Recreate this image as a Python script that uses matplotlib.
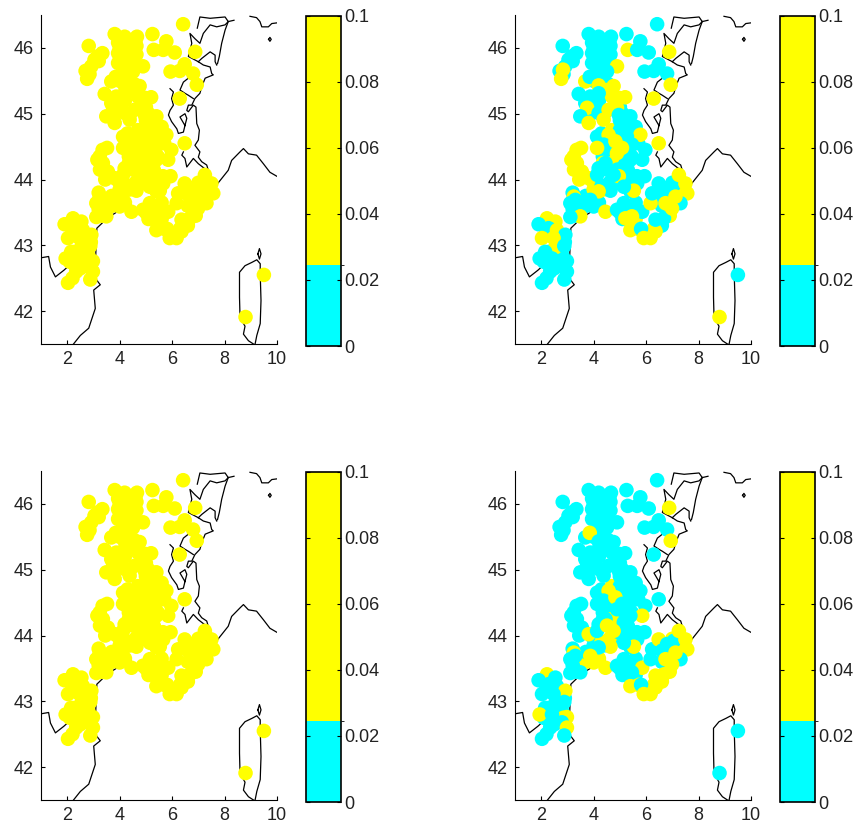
import matplotlib
matplotlib.use("Agg")
import matplotlib.pyplot as plt
from matplotlib.colors import BoundaryNorm, ListedColormap

plt.rcParams["font.family"] = ["Liberation Sans", "DejaVu Sans"]

lons = [6.42, 5.25, 3.81, 4.19, 4.66, 5.78, 5.30, 5.66, 6.10, 6.88, 2.82, 3.34, 3.04, 2.92, 2.83, 2.76,
        3.94, 3.94, 4.25, 4.64, 4.64, 3.94, 4.13, 4.89, 4.51, 3.68, 3.85, 5.94, 6.48, 6.29, 6.80, 6.94,
        6.29, 4.19, 4.76, 4.45, 4.70, 4.96, 3.43, 3.87, 4.19, 3.68, 3.75, 3.49, 3.81, 4.19, 4.38, 4.57,
        4.89, 4.96, 5.40, 5.15, 5.78, 5.27, 5.46, 4.13, 4.57, 4.38, 4.13, 4.83, 5.08, 5.97, 5.85, 6.48,
        3.52, 3.24, 3.36, 3.55, 3.81, 4.13, 4.89, 4.45, 4.19, 5.15, 5.40, 4.96, 4.51, 4.76, 5.94, 5.66,
        5.40, 5.53, 5.15, 4.64, 4.19, 3.87, 3.24, 3.30, 3.11, 3.49, 3.11, 4.00, 4.45, 4.89, 5.15, 5.53,
        5.85, 5.46, 5.21, 5.40, 5.81, 5.91, 6.17, 6.36, 6.36, 6.68, 6.17, 6.23, 6.48, 6.80, 7.06, 6.61,
        7.25, 7.50, 7.57, 7.31, 6.99, 6.74, 7.12, 2.22, 2.54, 1.90, 2.28, 2.60, 2.92, 2.03, 2.47, 2.54,
        2.88, 2.15, 1.94, 2.41, 2.98, 2.79, 2.98, 2.34, 2.03, 2.88, 9.50, 8.80]
lats = [46.36, 46.21, 46.21, 46.17, 46.17, 46.10, 45.97, 45.97, 45.93, 45.94, 46.03, 45.92, 45.82, 45.72, 45.67, 45.53,
        46.08, 45.92, 45.97, 46.03, 45.90, 45.77, 45.64, 45.72, 45.64, 45.49, 45.56, 45.64, 45.75, 45.65, 45.61, 45.44,
        45.23, 45.43, 45.42, 45.36, 45.26, 45.24, 45.30, 45.26, 45.31, 45.16, 45.09, 44.96, 44.86, 45.01, 44.91, 45.06,
        45.09, 44.98, 44.96, 44.83, 44.68, 44.65, 44.53, 44.65, 44.68, 44.53, 44.48, 44.58, 44.48, 44.45, 44.30, 44.55,
        44.48, 44.35, 44.25, 44.12, 44.02, 44.07, 44.40, 44.25, 44.17, 44.20, 44.30, 44.05, 44.15, 44.07, 44.05, 43.94,
        43.82, 43.83, 43.89, 43.83, 43.82, 43.69, 43.74, 43.69, 43.64, 43.44, 43.43, 43.59, 43.51, 43.54, 43.64, 43.59,
        43.51, 43.44, 43.41, 43.23, 43.25, 43.11, 43.11, 43.21, 43.39, 43.41, 43.64, 43.79, 43.94, 43.87, 43.92, 43.77,
        44.07, 43.94, 43.79, 43.64, 43.56, 43.64, 43.74, 43.41, 43.36, 43.32, 43.26, 43.23, 43.16, 43.11, 43.11, 42.97,
        42.99, 42.90, 42.80, 42.80, 42.76, 42.68, 42.60, 42.60, 42.43, 42.48, 42.55, 41.91]

# estimated: 0.01 = below the colour break, 0.05 = above it
values_top_right = [0.01, 0.01, 0.01, 0.01, 0.01, 0.01, 0.05, 0.01, 0.01, 0.05, 0.01, 0.01, 0.01, 0.01, 0.05, 0.05,
                    0.01, 0.01, 0.01, 0.01, 0.01, 0.01, 0.01, 0.05, 0.01, 0.05, 0.01, 0.01, 0.01, 0.01, 0.01, 0.05,
                    0.05, 0.05, 0.05, 0.05, 0.05, 0.05, 0.01, 0.01, 0.01, 0.01, 0.05, 0.01, 0.05, 0.01, 0.05, 0.05,
                    0.05, 0.01, 0.01, 0.01, 0.05, 0.01, 0.01, 0.01, 0.05, 0.01, 0.05, 0.05, 0.05, 0.01, 0.01, 0.05,
                    0.05, 0.05, 0.05, 0.05, 0.05, 0.01, 0.05, 0.01, 0.01, 0.01, 0.01, 0.05, 0.01, 0.01, 0.01, 0.01,
                    0.01, 0.05, 0.01, 0.01, 0.05, 0.01, 0.05, 0.01, 0.01, 0.05, 0.01, 0.01, 0.05, 0.01, 0.01, 0.01,
                    0.01, 0.05, 0.05, 0.05, 0.01, 0.05, 0.05, 0.05, 0.01, 0.01, 0.05, 0.01, 0.01, 0.01, 0.01, 0.01,
                    0.05, 0.05, 0.05, 0.01, 0.05, 0.05, 0.05, 0.05, 0.05, 0.01, 0.01, 0.05, 0.01, 0.05, 0.05, 0.05,
                    0.01, 0.01, 0.01, 0.01, 0.01, 0.01, 0.01, 0.01, 0.01, 0.01, 0.01, 0.05]
values_bottom_right = [0.01, 0.01, 0.01, 0.01, 0.01, 0.01, 0.01, 0.01, 0.01, 0.05, 0.01, 0.01, 0.01, 0.01, 0.01, 0.01,
                       0.01, 0.01, 0.01, 0.01, 0.01, 0.01, 0.01, 0.01, 0.01, 0.01, 0.05, 0.01, 0.01, 0.01, 0.01, 0.05,
                       0.01, 0.01, 0.01, 0.01, 0.01, 0.01, 0.01, 0.01, 0.01, 0.01, 0.01, 0.01, 0.01, 0.01, 0.01, 0.01,
                       0.01, 0.01, 0.01, 0.01, 0.01, 0.01, 0.01, 0.01, 0.05, 0.01, 0.01, 0.05, 0.01, 0.01, 0.05, 0.01,
                       0.01, 0.01, 0.01, 0.01, 0.05, 0.01, 0.01, 0.01, 0.01, 0.01, 0.01, 0.01, 0.05, 0.05, 0.01, 0.01,
                       0.01, 0.05, 0.01, 0.05, 0.01, 0.05, 0.05, 0.01, 0.01, 0.01, 0.01, 0.05, 0.05, 0.01, 0.01, 0.01,
                       0.05, 0.01, 0.01, 0.05, 0.01, 0.05, 0.05, 0.05, 0.05, 0.05, 0.01, 0.01, 0.05, 0.01, 0.01, 0.01,
                       0.05, 0.05, 0.05, 0.01, 0.05, 0.05, 0.05, 0.05, 0.01, 0.01, 0.01, 0.01, 0.05, 0.01, 0.01, 0.01,
                       0.01, 0.01, 0.05, 0.01, 0.05, 0.01, 0.05, 0.01, 0.01, 0.01, 0.01, 0.01]

# stations packed into the dense parts of the network, drawn first
dense_lons = [4.0, 4.3, 4.6, 4.3, 4.1, 4.55, 4.25, 3.15, 2.85, 4.0, 4.3, 4.55, 4.2, 4.0, 3.8, 4.4,
              5.0, 5.2, 4.3, 4.7, 5.0, 5.2, 5.0, 4.7, 4.6, 4.35, 5.3, 5.1, 4.9, 4.7, 5.35, 5.6,
              5.45, 5.7, 5.0, 5.25, 4.9, 6.95, 7.0, 6.8, 7.3, 6.6, 6.9, 6.6, 6.3, 7.2, 5.0, 5.3,
              5.6, 5.7, 5.5, 5.1, 5.6, 6.05, 3.5, 3.7, 3.2, 4.2, 4.4, 3.35, 3.2, 5.4, 5.65, 2.4,
              2.2, 2.4, 2.6, 2.3, 2.6, 2.3, 2.2, 2.8, 2.85, 2.9, 2.7, 2.1, 2.5, 5.0, 5.1, 5.3,
              3.35, 3.15, 3.25, 3.45, 3.95, 4.35, 2.7, 3.2, 3.7, 4.0, 4.3, 4.6]
dense_lats = [46.0, 46.1, 46.1, 45.8, 45.87, 45.75, 45.7, 45.87, 45.6, 45.5, 45.5, 45.45, 45.2, 45.1, 45.0, 45.0,
              45.1, 45.25, 44.7, 44.75, 44.75, 44.5, 44.3, 44.3, 44.5, 44.35, 44.15, 44.05, 43.95, 44.25, 44.75, 44.8,
              44.35, 44.55, 44.6, 44.3, 44.15, 43.75, 43.95, 43.7, 43.85, 43.6, 43.45, 43.3, 43.25, 43.95, 43.5, 43.5,
              43.4, 43.25, 43.6, 43.4, 43.65, 43.15, 43.65, 43.6, 43.55, 43.65, 43.85, 43.45, 43.8, 43.95, 44.05, 43.35,
              43.2, 43.15, 43.0, 42.9, 42.75, 42.7, 42.5, 42.85, 42.75, 43.05, 43.15, 42.75, 42.65, 44.9, 45.0, 44.7,
              44.45, 44.3, 44.15, 44.0, 43.98, 44.25, 45.65, 45.8, 43.75, 43.85, 43.9, 43.95]
dense_top_right = [0.01, 0.01, 0.01, 0.01, 0.01, 0.01, 0.01, 0.01, 0.01, 0.01, 0.01, 0.01, 0.01, 0.01, 0.01, 0.01,
                   0.01, 0.05, 0.01, 0.05, 0.01, 0.01, 0.01, 0.05, 0.01, 0.01, 0.01, 0.01, 0.01, 0.05, 0.01, 0.01,
                   0.01, 0.01, 0.01, 0.01, 0.01, 0.05, 0.01, 0.05, 0.05, 0.01, 0.05, 0.01, 0.05, 0.05, 0.01, 0.01,
                   0.05, 0.05, 0.01, 0.01, 0.01, 0.05, 0.01, 0.01, 0.01, 0.01, 0.05, 0.01, 0.01, 0.01, 0.01, 0.05,
                   0.01, 0.05, 0.05, 0.01, 0.01, 0.01, 0.01, 0.01, 0.01, 0.01, 0.05, 0.01, 0.01, 0.01, 0.01, 0.01,
                   0.05, 0.05, 0.05, 0.05, 0.05, 0.05, 0.01, 0.01, 0.01, 0.05, 0.01, 0.01]
dense_bottom_right = [0.01, 0.01, 0.01, 0.01, 0.01, 0.01, 0.01, 0.01, 0.01, 0.01, 0.01, 0.01, 0.01, 0.01, 0.01, 0.01,
                      0.01, 0.01, 0.01, 0.05, 0.01, 0.01, 0.01, 0.01, 0.01, 0.01, 0.01, 0.01, 0.01, 0.05, 0.01, 0.01,
                      0.01, 0.01, 0.01, 0.01, 0.05, 0.05, 0.05, 0.05, 0.05, 0.01, 0.05, 0.05, 0.05, 0.05, 0.01, 0.01,
                      0.01, 0.05, 0.01, 0.01, 0.01, 0.05, 0.05, 0.05, 0.01, 0.05, 0.01, 0.01, 0.01, 0.01, 0.01, 0.01,
                      0.01, 0.01, 0.01, 0.01, 0.01, 0.01, 0.01, 0.01, 0.05, 0.01, 0.01, 0.01, 0.01, 0.01, 0.01, 0.01,
                      0.01, 0.01, 0.01, 0.01, 0.01, 0.01, 0.01, 0.01, 0.01, 0.01, 0.05, 0.05]

coast_lines = [
    # mainland, hidden in places under the stations
    ([2.22, 2.50, 2.82, 3.07, 3.01, 3.26, 3.07, 3.07, 3.13, 3.52, 4.41, 4.47, 5.20, 6.06, 6.70, 7.64,
      8.14, 8.27, 8.59, 8.72, 8.91, 9.22, 9.48, 9.73, 9.99],
     [41.49, 41.63, 41.74, 42.04, 42.32, 42.40, 42.50, 42.68, 43.26, 43.41, 43.64, 43.54, 43.40, 43.20, 43.50, 43.89,
      44.14, 44.29, 44.42, 44.47, 44.39, 44.37, 44.24, 44.11, 44.05]),
    ([1.00, 1.29, 1.36, 1.55, 1.87, 2.12], [42.81, 42.83, 42.67, 42.52, 42.62, 42.71]),
    # northern shoreline
    ([6.96, 7.06, 7.45, 8.02, 8.14, 8.36], [46.30, 46.47, 46.45, 46.47, 46.40, 46.42]),
    ([8.14, 8.02, 7.89, 7.80, 7.73], [46.40, 46.27, 46.07, 45.87, 45.76]),
    ([8.14, 8.02, 7.70, 7.45, 7.19, 7.06, 6.87, 6.68, 6.75, 6.62, 7.00],
     [46.40, 46.35, 46.32, 46.35, 46.22, 46.07, 46.14, 46.22, 46.07, 45.87, 45.79]),
    ([7.00, 7.13, 7.45, 7.64, 7.64, 7.70], [45.79, 45.84, 45.94, 45.89, 45.79, 45.74]),
    ([7.00, 7.19, 7.45, 7.51, 7.57, 7.26, 7.13, 7.06, 6.87, 6.75, 6.62, 6.56, 6.62, 6.81, 6.91, 6.94,
      7.04, 7.00, 6.87, 7.06, 7.00, 7.13, 7.32, 7.38, 7.45],
     [45.79, 45.74, 45.71, 45.61, 45.59, 45.54, 45.41, 45.31, 45.23, 45.13, 45.13, 45.05, 45.03, 45.13, 45.10, 44.85,
      44.75, 44.60, 44.52, 44.42, 44.34, 44.27, 44.22, 44.14, 43.99]),
    ([6.62, 6.43, 6.30, 6.49, 6.62, 6.81], [45.54, 45.48, 45.36, 45.31, 45.28, 45.23]),
    ([5.92, 6.05, 5.98, 6.05, 5.92, 5.86, 5.98, 6.18, 6.24, 6.43, 6.49, 6.30, 6.49, 6.56, 6.49],
     [45.38, 45.33, 45.23, 45.13, 45.05, 44.98, 44.88, 44.77, 44.70, 44.72, 44.82, 44.95, 45.00, 44.93, 44.82]),
    ([6.43, 6.37, 6.49, 6.56, 6.81, 7.00, 7.26], [44.42, 44.37, 44.32, 44.19, 44.32, 44.24, 44.16]),
    ([8.97, 9.22, 9.35, 9.42, 9.67, 9.80, 9.99], [46.48, 46.46, 46.40, 46.32, 46.32, 46.37, 46.38]),
    ([9.68, 9.73, 9.78, 9.73, 9.68], [46.13, 46.16, 46.13, 46.10, 46.13]),
    # Corsica
    ([9.14, 8.91, 8.72, 8.78, 8.59, 8.57, 8.57, 8.78, 9.04, 9.23, 9.36, 9.36, 9.39, 9.36, 9.23, 9.16],
     [41.49, 41.55, 41.65, 41.77, 41.91, 42.21, 42.59, 42.69, 42.74, 42.78, 42.72, 42.57, 42.16, 41.81, 41.63, 41.49]),
    ([9.27, 9.33, 9.39, 9.33, 9.27], [42.87, 42.95, 42.87, 42.79, 42.87]),
]

xticks = [2, 4, 6, 8, 10]
yticks = [42, 43, 44, 45, 46]
cbar_ticks = [0, 0.02, 0.04, 0.06, 0.08, 0.1]
cbar_labels = ["0", "0.02", "0.04", "0.06", "0.08", "0.1"]
color_break = 0.0245

WIDTH, HEIGHT = 859, 830


def pixel_axes(fig, left, right, top, bottom):
    return fig.add_axes([left / WIDTH, 1 - bottom / HEIGHT, (right - left) / WIDTH, (bottom - top) / HEIGHT])


def draw_panel(fig, values, left, top, cmap, norm):
    ax = pixel_axes(fig, left, left + 236, top, top + 329)
    for line_lon, line_lat in coast_lines:
        ax.plot(line_lon, line_lat, color="black", linewidth=0.9, zorder=1)
    points = ax.scatter(dense_lons + lons, dense_lats + lats, c=values, cmap=cmap, norm=norm,
                        s=110, linewidths=0, zorder=2)
    ax.set_xlim(1, 10)
    ax.set_ylim(41.5, 46.5)
    ax.set_xticks(xticks)
    ax.set_yticks(yticks)
    ax.spines["top"].set_visible(False)
    ax.spines["right"].set_visible(False)
    ax.tick_params(direction="in", length=3, width=0.8, labelsize=13, pad=5, labelcolor="#222222")

    cax = pixel_axes(fig, left + 265, left + 300, top + 1, top + 331)
    cbar = fig.colorbar(points, cax=cax, spacing="proportional", ticks=cbar_ticks, drawedges=False)
    cbar.ax.set_yticklabels(cbar_labels)
    cbar.ax.tick_params(direction="in", length=3, width=0.8, labelsize=13, pad=2, left=True, labelcolor="#222222")
    cbar.outline.set_linewidth(1.2)


def main():
    fig = plt.figure(figsize=(WIDTH / 100, HEIGHT / 100), dpi=100)
    cmap = ListedColormap(["#00ffff", "#ffff00"])
    norm = BoundaryNorm([0, color_break, 0.1], cmap.N)
    all_yellow = [0.05] * (len(dense_lons) + len(lons))
    draw_panel(fig, all_yellow, 41, 15, cmap, norm)
    draw_panel(fig, dense_top_right + values_top_right, 515, 15, cmap, norm)
    draw_panel(fig, all_yellow, 41, 471, cmap, norm)
    draw_panel(fig, dense_bottom_right + values_bottom_right, 515, 471, cmap, norm)
    fig.savefig("out.png", dpi=100)


if __name__ == "__main__":
    main()
